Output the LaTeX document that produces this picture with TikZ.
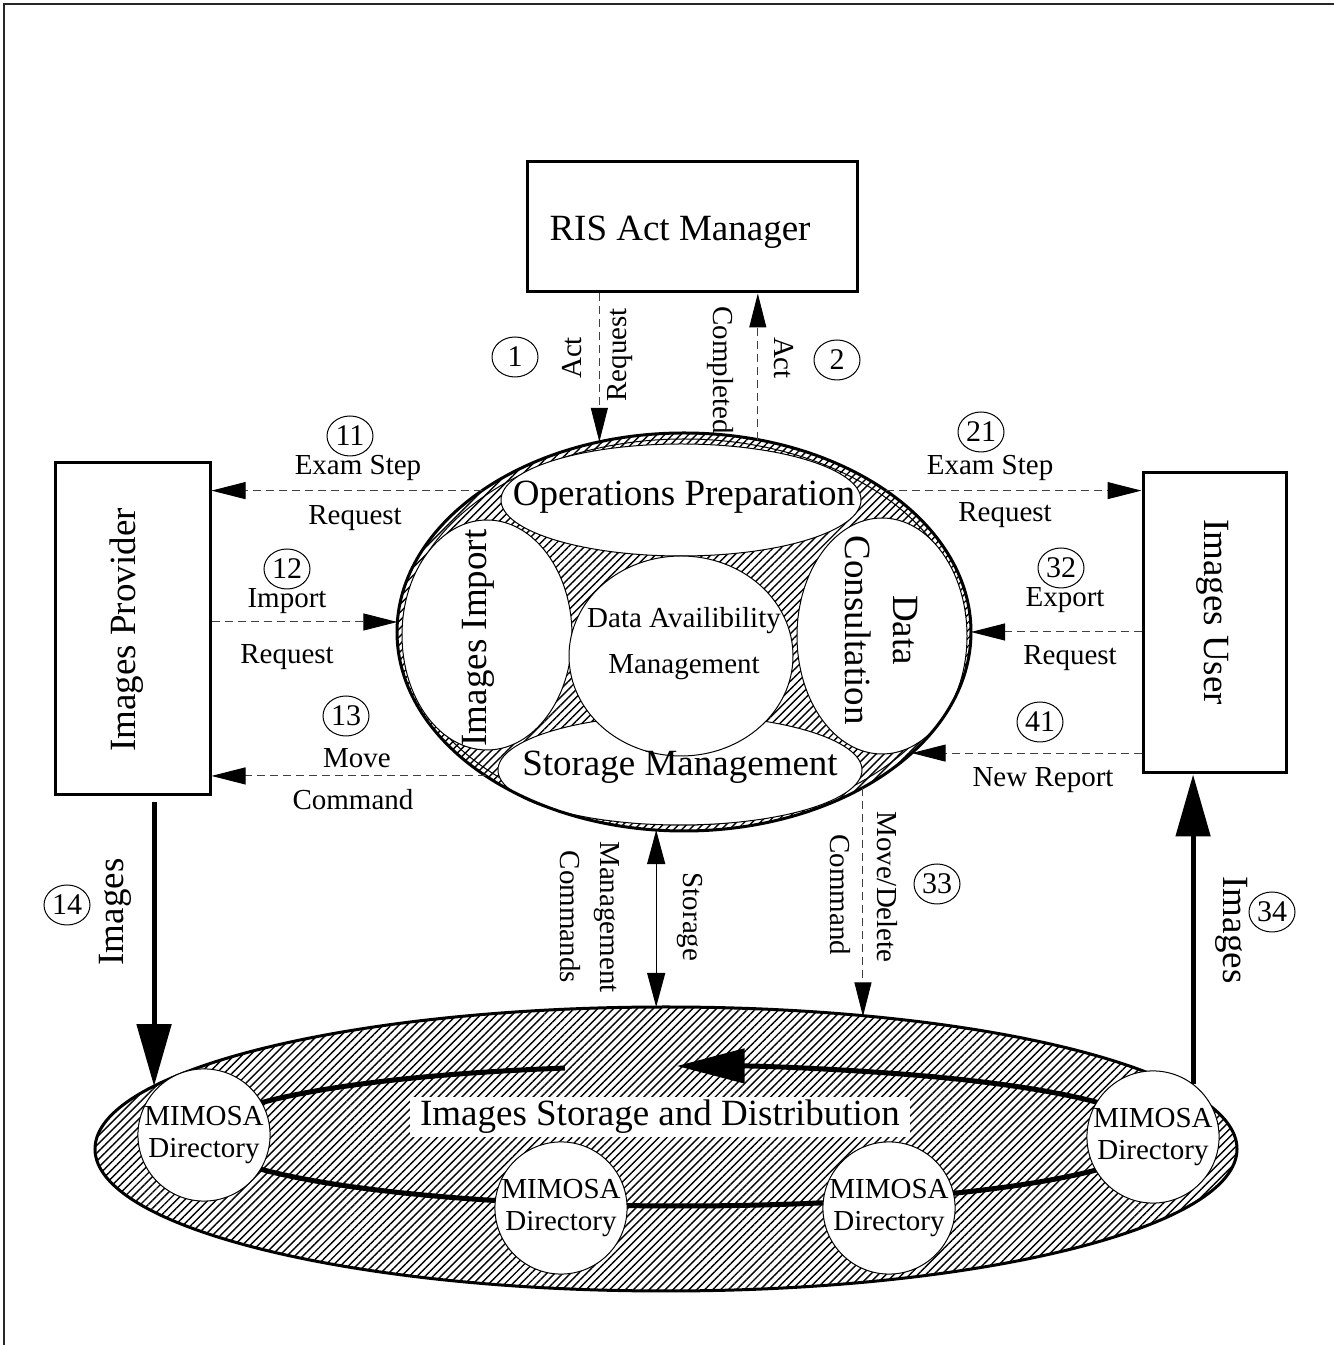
\documentclass[tikz,border=0pt]{standalone}
\usepackage{fontspec}
\setmainfont{Liberation Serif}
\usetikzlibrary{shapes.geometric,arrows.meta,patterns.meta}

\tikzset{
  big/.style={font=\fontsize{18.5}{24}\selectfont, inner sep=0pt},
  lbl/.style={font=\fontsize{14.5}{17}\selectfont, inner sep=0pt},
  num/.style={draw, line width=0.5pt, ellipse, inner sep=0pt, minimum width=23pt,
              minimum height=20pt, font=\fontsize{15}{15}\selectfont},
  box/.style={draw, line width=1.5pt, rectangle, inner sep=0pt},
  hatch/.style={pattern={Lines[angle=45,distance=2.8pt,line width=0.7pt]}},
  part/.style={ellipse, draw, line width=0.5pt, fill=white, inner sep=0pt},
  mimosa/.style={circle, draw, line width=0.5pt, fill=white, inner sep=0pt,
                 minimum size=60pt, align=center, font=\fontsize{14.5}{16}\selectfont},
  flow/.style={draw=black!75, line width=0.5pt, dash pattern=on 4pt off 2.5pt,
               -{Triangle[length=17pt,width=8.5pt,color=black]}},
  both/.style={draw, line width=0.6pt,
               {Triangle[length=17pt,width=9pt]}-{Triangle[length=17pt,width=9pt]}},
  heavy/.style={draw, line width=2.5pt, -{Triangle[length=31pt,width=17pt]}},
  ring/.style={draw, line width=2.5pt},
  frame/.style={draw=black!85, line width=1pt}
}

\begin{document}
\begin{tikzpicture}[x=0.5pt,y=0.5pt]
\useasboundingbox (0,0) rectangle (1334,1345);
\draw[frame] (4,0) -- (4,1341) -- (1334,1341);

% ---- boxes -------------------------------------------------------------
\node[box, minimum width=165pt, minimum height=65pt] (ris) at (692,1118) {};
\node[big] (risT) at (680,1113) {RIS Act Manager};
\node[box, minimum width=77.5pt, minimum height=166pt] (prov) at (132.5,716) {};
\node[big, rotate=90] (provT) at (127,715) {Images Provider};
\node[box, minimum width=71.5pt, minimum height=150pt] (user) at (1214.5,722) {};
\node[big, rotate=-90] (userT) at (1213,733) {Images User};

% ---- central process ---------------------------------------------------
\node[ellipse, hatch, minimum width=287pt, minimum height=199pt, inner sep=0pt,
      outer sep=0pt] (core) at (684,713) {};
\draw[line width=0.5pt] (core.center) ellipse[x radius=281, y radius=193];
\node[part, minimum width=180pt, minimum height=56pt] (prep) at (681,845) {};
\node[part, minimum width=182pt, minimum height=55pt] (smgt) at (680,575) {};
\node[part, minimum width=85pt, minimum height=115pt] (imp) at (487,710) {};
\node[part, minimum width=85pt, minimum height=118pt] (cons) at (882,709) {};
\node[part, minimum width=112pt, minimum height=100pt] (avail) at (681,689) {};
\draw[line width=1.5pt] (core.center) ellipse[x radius=287, y radius=199];

\node[big] (prepT) at (684,848) {Operations Preparation};
\node[big] (smgtT) at (680,578) {Storage Management};
\node[big, rotate=90] (impT) at (478,707) {Images Import};
\node[big, rotate=-90, align=center] (consT) at (881,715) {Data\\Consultation};
\node[font=\fontsize{14.5}{23}\selectfont, align=center, inner sep=0pt] (availT)
     at (684,701) {Data Availibility\\Management};

% ---- storage and distribution ------------------------------------------
\node[ellipse, hatch, draw, line width=1.5pt, minimum width=571pt, minimum height=142pt,
      inner sep=0pt, outer sep=0pt] (store) at (666,196) {};
\coordinate (ringc) at (680,209);
\draw[ring] (ringc) ++(180:476 and 70)
  arc[start angle=180, end angle=104, x radius=476, y radius=70];
\draw[ring, -{Triangle[length=34pt,width=17pt]}] (ringc) ++(0:476 and 70)
  arc[start angle=0, end angle=90.4, x radius=476, y radius=70];
\draw[ring] (ringc) ++(180:476 and 70)
  arc[start angle=180, end angle=360, x radius=476, y radius=70];
\node[mimosa] (mL) at (204,210) {MIMOSA\\Directory};
\node[mimosa] (mML) at (561,137) {MIMOSA\\Directory};
\node[mimosa] (mMR) at (889,137) {MIMOSA\\Directory};
\node[mimosa] (mR) at (1153,208) {MIMOSA\\Directory};
\node[big, fill=white, inner xsep=5pt, inner ysep=1.5pt] (storeT) at (660,228)
     {Images Storage and Distribution};

% ---- connectors --------------------------------------------------------
\draw[flow] (core.114.65 |- ris.south) -- (core.114.65);
\draw[flow] (core.69.23) -- (core.69.23 |- ris.south);
\draw[flow] (core.145.15) -- (core.145.15 -| prov.east);
\draw[flow] (core.178.8 -| prov.east) -- (core.178.8);
\draw[flow] (core.216.83) -- (core.216.83 -| prov.east);
\draw[flow] (core.35.24) -- (core.35.24 -| user.west);
\draw[flow] (core.0.8 -| user.west) -- (core.0.8);
\draw[flow] (core.332.35 -| user.west) -- (core.332.35);
\draw[flow] (core.319.27) -- (core.319.27 |- store.33.5);
\draw[both] (core.262.53) -- (core.262.53 |- store.north);
\draw[heavy, shorten <=3pt] (store.173.16 |- prov.south) -- (store.173.16);
\draw[heavy] (mR.53.3) -- (mR.53.3 |- user.south);

% ---- connector labels --------------------------------------------------
\node[num] (n1) at (515,988) {1};
\node[lbl, rotate=90] (l1a) at (572,987) {Act};
\node[lbl, rotate=90] (l1b) at (620,990) {Request};
\node[num] (n2) at (837,985) {2};
\node[lbl, rotate=-90] (l2a) at (784,987) {Act};
\node[lbl, rotate=-90] (l2b) at (720,975) {Completed};

\node[num] (n11) at (350,909) {11};
\node[lbl] (l11a) at (358,877) {Exam Step};
\node[lbl] (l11b) at (355,827) {Request};
\node[num] (n12) at (287,776) {12};
\node[lbl] (l12a) at (287,744) {Import};
\node[lbl] (l12b) at (287,688) {Request};
\node[num] (n13) at (346,629) {13};
\node[lbl] (l13a) at (357,587) {Move};
\node[lbl] (l13b) at (353,545) {Command};

\node[num] (n21) at (981,913) {21};
\node[lbl] (l21a) at (990,877) {Exam Step};
\node[lbl] (l21b) at (1005,830) {Request};
\node[num] (n32) at (1061,777) {32};
\node[lbl] (l32a) at (1065,745) {Export};
\node[lbl] (l32b) at (1070,687) {Request};
\node[num] (n41) at (1040,623) {41};
\node[lbl] (l41) at (1043,565) {New Report};

\node[lbl, rotate=-90] (lsa) at (690,428) {Storage};
\node[lbl, rotate=-90, align=center, font=\fontsize{14.5}{20}\selectfont] (lsb)
     at (590,428) {Management\\Commands};
\node[lbl, rotate=-90] (l33a) at (887,458) {Move/Delete};
\node[lbl, rotate=-90] (l33b) at (840,450) {Command};
\node[num] (n33) at (937,461) {33};

\node[big, rotate=90] (l14) at (115,433) {Images};
\node[num] (n14) at (67,440) {14};
\node[big, rotate=-90] (l34) at (1232,415) {Images};
\node[num] (n34) at (1272,433) {34};
\end{tikzpicture}
\end{document}
